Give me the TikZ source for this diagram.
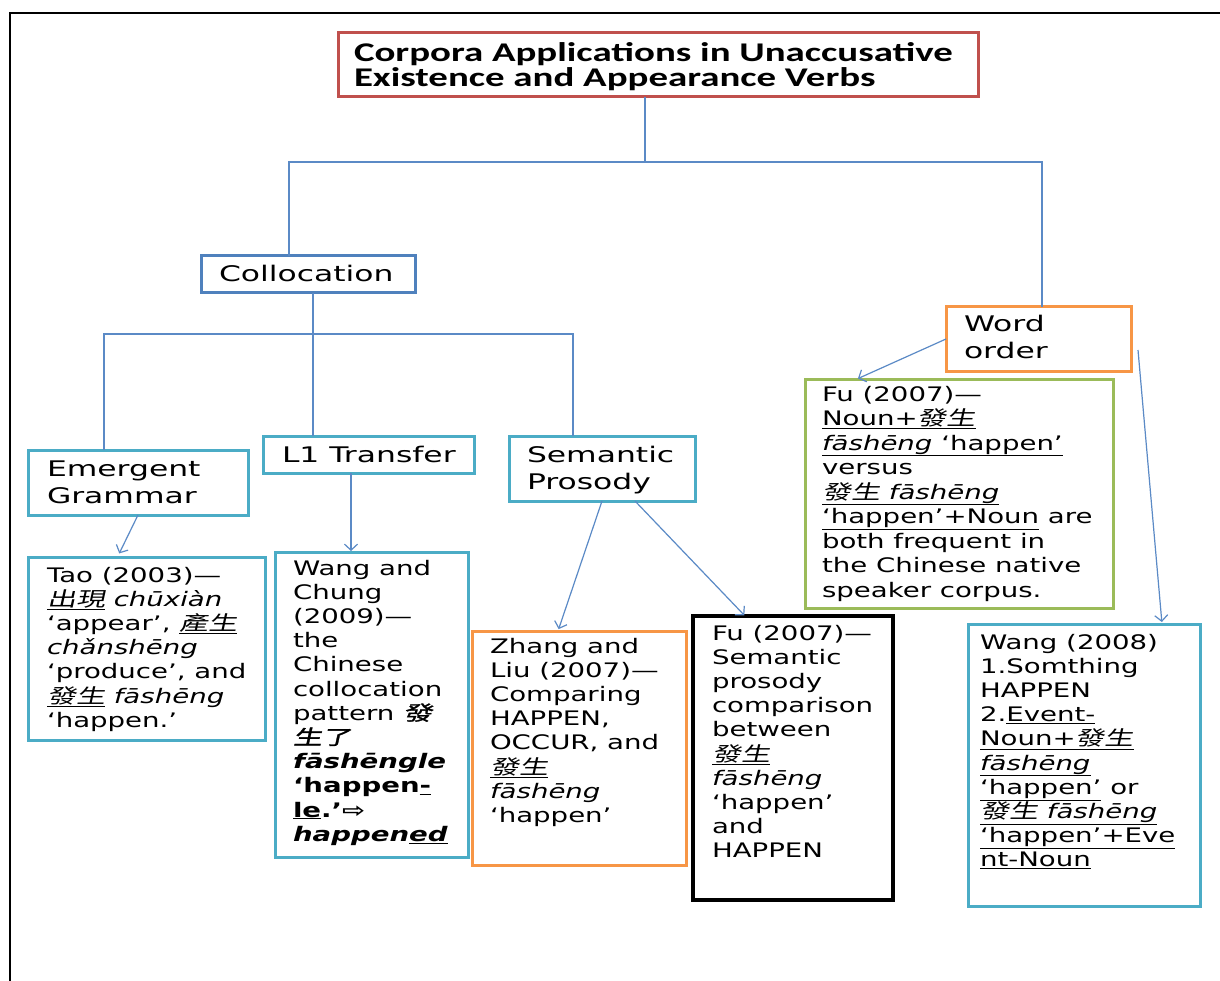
\documentclass[tikz,border=0pt]{standalone}
\usepackage{fontspec}
\usetikzlibrary{arrows.meta}

% Verdana-like body face, widened
\newfontfamily\bodyfont[FakeStretch=1.38,
  ItalicFont={DejaVu Sans Oblique},
  BoldFont={DejaVu Sans Bold},
  BoldItalicFont={DejaVu Sans Bold Oblique}]{DejaVu Sans}
% same face, a little wider, for the category labels
\newfontfamily\catfont[FakeStretch=1.46]{DejaVu Sans}
% Calibri-metric face for the heading
\newfontfamily\titlefont[FakeStretch=1.44]{Carlito}
% slanted Chinese characters
\newfontfamily\cjkfont[FakeSlant=0.22,FakeStretch=1.45]{Noto Sans CJK TC}
\newfontfamily\cjkboldfont[FakeSlant=0.22,FakeStretch=1.45,FakeBold=1.5]{Noto Sans CJK TC}

\newcommand\zh[1]{{\cjkfont #1}}
\newcommand\zhb[1]{{\cjkboldfont #1}}
\newcommand\ul[1]{\underline{#1}}
% left-aligned block whose baseline is that of its first line
\newcommand\tb[1]{\parbox[t]{900pt}{\raggedright\lineskiplimit=-\maxdimen #1}}

\definecolor{titlec}{HTML}{C0504D}
\definecolor{collc}{HTML}{4F81BD}
\definecolor{tealc}{HTML}{4BACC6}
\definecolor{orangec}{HTML}{F79646}
\definecolor{greenc}{HTML}{9BBB59}
\definecolor{linkc}{HTML}{5B8AC6}

\begin{document}
\begin{tikzpicture}[x=1pt,y=-1pt,
  panel/.style={draw=#1, line width=3pt, fill=white, rectangle,
    inner sep=0pt, outer sep=0pt, anchor=north west},
  conn/.style={draw=linkc, line width=1.2pt},
  arr/.style={conn, -{Straight Barb[length=6pt,width=13pt]}},
  txt/.style={inner sep=0pt, outer sep=0pt, anchor=base west, text=black},
  cat/.style={font=\catfont\fontsize{21.5}{27}\selectfont},
  body/.style={font=\bodyfont\fontsize{20}{24.2}\selectfont}]

\useasboundingbox (0,0) rectangle (1220,981);
\fill[white] (0,0) rectangle (1220,981);

% page frame (top and left edges)
\draw[line width=2.2pt] (10,981) -- (10,13) -- (1220,13);

% boxes
\node[panel=titlec, minimum width=640pt, minimum height=64pt] (title) at (338,33) {};
\node[panel=collc, minimum width=214pt, minimum height=37pt] (coll) at (201,256) {};
\node[panel=tealc, minimum width=220pt, minimum height=65pt] (emerg) at (28,450) {};
\node[panel=tealc, minimum width=211pt, minimum height=37pt] (l1) at (263,436) {};
\node[panel=tealc, minimum width=186pt, minimum height=65pt] (sem) at (509,436) {};
\node[panel=orangec, minimum width=185pt, minimum height=64pt] (word) at (946,307) {};
\node[panel=tealc, minimum width=237pt, minimum height=183pt] (tao) at (28,557) {};
\node[panel=tealc, minimum width=193pt, minimum height=305pt] (wc) at (275,552) {};
\node[panel=orangec, minimum width=214pt, minimum height=234pt] (zhang) at (472,631) {};
\node[panel=black, line width=3.5pt, minimum width=200pt, minimum height=284pt] (fu) at (693,616) {};
\node[panel=greenc, minimum width=308pt, minimum height=229pt] (green) at (805,379) {};
\node[panel=tealc, minimum width=232pt, minimum height=282pt] (wang) at (968,624) {};

% tree connectors
\coordinate (hub) at (645,162);
\coordinate (hl) at (289,162);
\coordinate (hr) at (1042,162);
\draw[conn] (title.south -| hub) -- (hub);
\draw[conn] (hl |- coll.north) -- (hl) -- (hr) -- (hr |- word.north);

\coordinate (chub) at (313,334);
\coordinate (cl) at (104,334);
\coordinate (cr) at (573,334);
\draw[conn] (coll.south -| chub) -- (chub |- l1.north);
\draw[conn] (cl |- emerg.north) -- (cl) -- (cr) -- (cr |- sem.north);

% arrows to the studies
\draw[arr, shorten >=4pt] (emerg.south) -- ([xshift=-29pt]tao.north);
\draw[arr, shorten >=1pt] ([xshift=-17.5pt]l1.south) -- ([xshift=-20.5pt]wc.north);
\draw[arr, shorten >=2pt] (sem.south) -- ([xshift=-21pt]zhang.north);
\draw[arr, shorten >=1pt] ([xshift=33pt]sem.south) -- ([xshift=-48pt]fu.north);
\draw[arr, shorten >=1pt] (word.west) -- ([xshift=52pt]green.north west);
\draw[arr, shorten >=2pt] ([shift={(7pt,-11pt)}]word.east) -- ([xshift=78pt]wang.north);

% heading
\node[txt, font=\titlefont\bfseries\fontsize{27}{25}\selectfont] (titletxt) at (354,62)
  {\tb{Corpora Applications in Unaccusative\\Existence and Appearance Verbs}};

% category labels
\node[txt, cat] (colltxt) at (219,282) {Collocation};
\node[txt, cat] (emergtxt) at (47,476) {\tb{Emergent\\Grammar}};
\node[txt, cat] (l1txt) at (282,462) {L1 Transfer};
\node[txt, cat] (semtxt) at (527,462) {\tb{Semantic\\Prosody}};
\node[txt, cat] (wordtxt) at (964,332) {\tb{Word\\order}};

% study texts
\node[txt, body] (taotxt) at (47,582) {\tb{Tao (2003)—\\
\ul{\zh{出現}} \textit{chūxiàn}\\
‘appear’, \ul{\zh{產生}}\\
\textit{chǎnshēng}\\
‘produce’, and\\
\ul{\zh{發生}} \textit{fāshēng}\\
‘happen.’}};

\node[txt, body] (wctxt) at (293,575) {\tb{Wang and\\
Chung\\
(2009)—\\
the\\
Chinese\\
collocation\\
pattern \zhb{發}\\
\zhb{生了}\\
\textbf{\textit{fāshēngle}}\\
\textbf{‘happen\ul{-}}\\
\textbf{\ul{le}.’⇨}\\
\textbf{\textit{happen\ul{ed}}}}};

\node[txt, body] (zhangtxt) at (490,653) {\tb{Zhang and\\
Liu (2007)—\\
Comparing\\
HAPPEN,\\
OCCUR, and\\
\ul{\zh{發生}}\\
\textit{fāshēng}\\
‘happen’}};

\node[txt, body] (futxt) at (712,640) {\tb{Fu (2007)—\\
Semantic\\
prosody\\
comparison\\
between\\
\ul{\zh{發生}}\\
\textit{fāshēng}\\
‘happen’\\
and\\
HAPPEN}};

\node[txt, font=\bodyfont\fontsize{20}{24.5}\selectfont] (greentxt) at (822,401) {\tb{Fu (2007)—\\
\ul{Noun+\zh{發生}}\\
\ul{\textit{fāshēng} ‘happen’}\\
versus\\
\ul{\zh{發生} \textit{fāshēng}}\\
\ul{‘happen’+Noun} are\\
both frequent in\\
the Chinese native\\
speaker corpus.}};

\node[txt, body] (wangtxt) at (980,649) {\tb{Wang (2008)\\
1.Somthing\\
HAPPEN\\
2.\ul{Event-}\\
\ul{Noun+\zh{發生}}\\
\ul{\textit{fāshēng}}\\
\ul{‘happen’} or\\
\ul{\zh{發生} \textit{fāshēng}}\\
\ul{‘happen’+Eve}\\
\ul{nt-Noun}}};

\end{tikzpicture}
\end{document}
